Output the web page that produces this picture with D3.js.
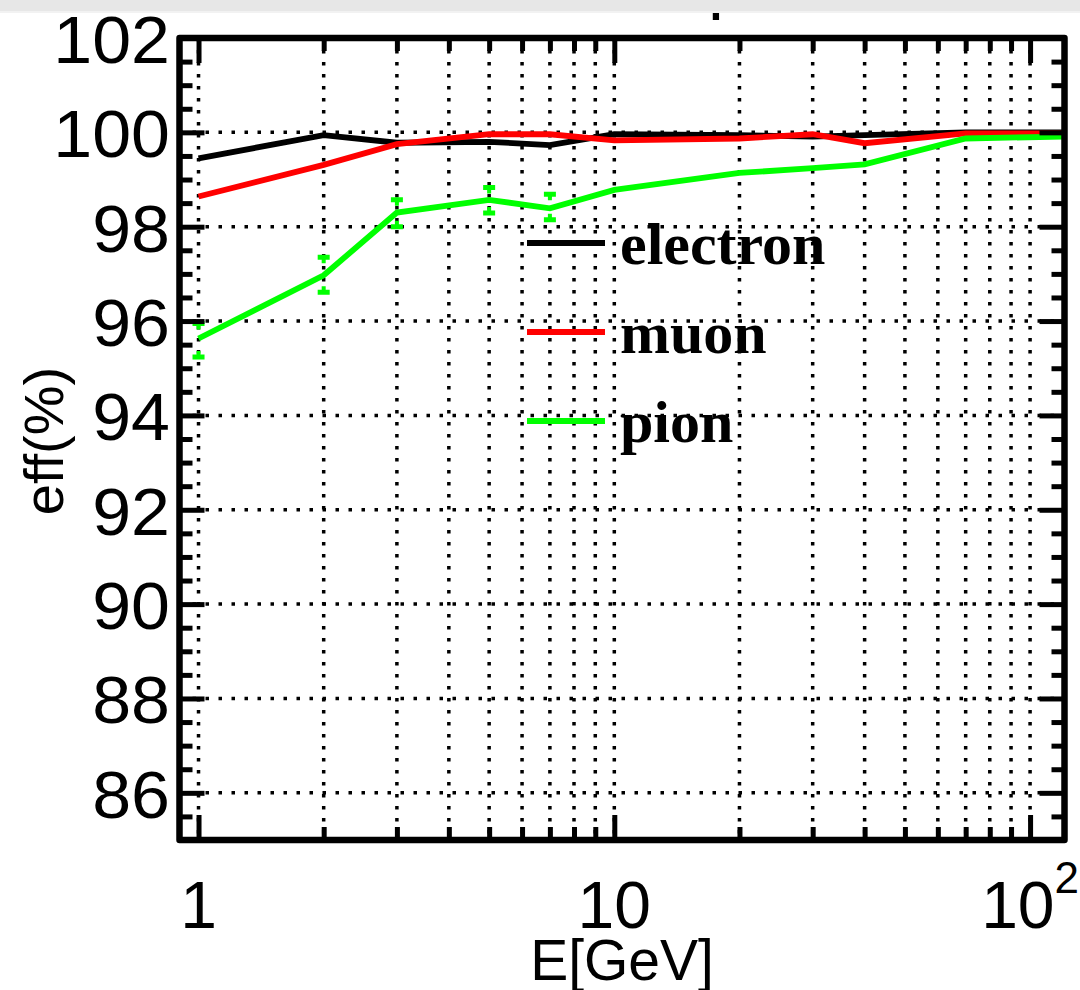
<!DOCTYPE html>
<html>
<head>
<meta charset="utf-8">
<script src="https://cdn.jsdelivr.net/npm/d3@7"></script>
<style>
  html, body { margin: 0; padding: 0; background: #ffffff; }
  svg { display: block; }
</style>
</head>
<body>
<svg id="chart" width="1080" height="990"></svg>
<script>
// Beam energies (GeV) at which the identification efficiency was measured
const energies = [1, 2, 3, 5, 7, 10, 20, 30, 40, 70, 120];

// Efficiency (%) per particle type
const electronEff = [99.45, 99.94, 99.78, 99.80, 99.73, 99.96, 99.94, 99.91, 99.94, 100.0, 100.0];
const muonEff     = [98.64, 99.31, 99.75, 99.96, 99.96, 99.83, 99.87, 99.96, 99.77, 99.98, 99.98];
const pionEff     = [95.63, 96.97, 98.30, 98.57, 98.39, 98.78, 99.14, 99.24, 99.32, 99.87, 99.91];

// Pion uncertainty band ends (%) at the low-energy points
const pionErrEnergies = [1, 2, 3, 5, 7];
const pionErrLow  = [95.24, 96.61, 98.00, 98.29, 98.15];
const pionErrHigh = [95.95, 97.35, 98.57, 98.83, 98.69];

const seriesNames  = ["electron", "muon", "pion"];
const seriesColors = ["#000000", "#ff0000", "#00ff00"];

// Axis ticks
const xMajorTicks = [1, 10, 100];
const xMinorTicks = [2, 3, 4, 5, 6, 7, 8, 9, 20, 30, 40, 50, 60, 70, 80, 90];
const xTickLabels = ["1", "10", "10|2"];
const yMajorTicks = [86, 88, 90, 92, 94, 96, 98, 100, 102];
const yMinorTicks = [85, 85.5, 86.5, 87, 87.5, 88.5, 89, 89.5, 90.5, 91, 91.5, 92.5, 93, 93.5,
                     94.5, 95, 95.5, 96.5, 97, 97.5, 98.5, 99, 99.5, 100.5, 101, 101.5];

(function drawChart() {
  const svg = d3.select("#chart");

  const pLeft = 179.5, pRight = 1064.5, pTop = 38, pBottom = 840;
  const x = d3.scaleLog().domain([0.9, 121]).range([pLeft, pRight]);
  const y = d3.scaleLinear().domain([85, 102]).range([pBottom, pTop]);

  const sansFont = "'Liberation Sans', Arial, Helvetica, sans-serif";
  const serifFont = "'Liberation Serif', 'Times New Roman', serif";
  const labelStretch = 1.06;

  // Fragment of a title line sitting above the plot
  svg.append("text")
    .attr("x", 716).attr("y", 20)
    .attr("text-anchor", "middle")
    .attr("font-family", sansFont).attr("font-size", 66)
    .attr("fill", "#000")
    .text(".");

  // Light band across the top edge of the page
  svg.append("rect").attr("x", 0).attr("y", 0).attr("width", 1080).attr("height", 11)
    .attr("fill", "#e7e7e7");
  svg.append("rect").attr("x", 0).attr("y", 11).attr("width", 1080).attr("height", 2)
    .attr("fill", "#f2f2f2");

  // Dotted grid
  const grid = svg.append("g");
  grid.selectAll("line.vgrid")
    .data(xMajorTicks.concat(xMinorTicks))
    .join("line")
    .attr("class", "vgrid")
    .attr("x1", d => x(d)).attr("x2", d => x(d))
    .attr("y1", pTop).attr("y2", pBottom)
    .attr("stroke", "#000").attr("stroke-width", 3.5)
    .attr("stroke-dasharray", "3.5,8.5");
  grid.selectAll("line.hgrid")
    .data(yMajorTicks.filter(d => d < 102))
    .join("line")
    .attr("class", "hgrid")
    .attr("x1", pLeft).attr("x2", pRight)
    .attr("y1", d => y(d)).attr("y2", d => y(d))
    .attr("stroke", "#000").attr("stroke-width", 3.5)
    .attr("stroke-dasharray", "3.5,9.5");

  // Data lines
  const line = d3.line()
    .x(d => x(d[0]))
    .y(d => y(d[1]));

  const seriesValues = [electronEff, muonEff, pionEff];
  const plot = svg.append("g");
  seriesValues.forEach((vals, i) => {
    plot.append("path")
      .datum(energies.map((e, k) => [e, vals[k]]))
      .attr("d", line)
      .attr("fill", "none")
      .attr("stroke", seriesColors[i])
      .attr("stroke-width", 5.8)
      .attr("stroke-linejoin", "miter");
  });

  // Pion error caps
  const capW = 12, capH = 5, stubW = 4, stubH = 3.5;
  function capPath(cx, cy, dir) {
    // dir = +1 : stub points down, -1 : stub points up
    const p = d3.path();
    p.rect(cx - capW / 2, cy - capH / 2, capW, capH);
    if (dir > 0) p.rect(cx - stubW / 2, cy + capH / 2, stubW, stubH);
    else p.rect(cx - stubW / 2, cy - capH / 2 - stubH, stubW, stubH);
    return p.toString();
  }
  pionErrEnergies.forEach((e, k) => {
    plot.append("path").attr("d", capPath(x(e), y(pionErrHigh[k]), 1)).attr("fill", seriesColors[2]);
    plot.append("path").attr("d", capPath(x(e), y(pionErrLow[k]), -1)).attr("fill", seriesColors[2]);
  });

  // Frame
  const axes = svg.append("g");
  axes.append("rect")
    .attr("x", pLeft).attr("y", pTop)
    .attr("width", pRight - pLeft).attr("height", pBottom - pTop)
    .attr("fill", "none").attr("stroke", "#000").attr("stroke-width", 6.5)
    .attr("stroke-linejoin", "round");

  // Inward ticks on all four sides, built with d3 axes
  const majLen = 25, minLen = 13;
  function styleAxis(g) {
    g.select(".domain").remove();
    g.selectAll(".tick line").attr("stroke", "#000").attr("stroke-width", 5);
    g.selectAll(".tick text").remove();
  }
  function addAxis(gen, transform) {
    axes.append("g").attr("transform", transform).call(gen).call(styleAxis);
  }
  addAxis(d3.axisBottom(x).tickValues(xMajorTicks).tickSize(-majLen).tickFormat(""), `translate(0,${pBottom})`);
  addAxis(d3.axisBottom(x).tickValues(xMinorTicks).tickSize(-minLen).tickFormat(""), `translate(0,${pBottom})`);
  addAxis(d3.axisTop(x).tickValues(xMajorTicks).tickSize(-majLen).tickFormat(""), `translate(0,${pTop})`);
  addAxis(d3.axisTop(x).tickValues(xMinorTicks).tickSize(-minLen).tickFormat(""), `translate(0,${pTop})`);
  addAxis(d3.axisLeft(y).tickValues(yMajorTicks).tickSize(-majLen).tickFormat(""), `translate(${pLeft},0)`);
  addAxis(d3.axisLeft(y).tickValues(yMinorTicks).tickSize(-minLen).tickFormat(""), `translate(${pLeft},0)`);
  addAxis(d3.axisRight(y).tickValues(yMajorTicks).tickSize(-majLen).tickFormat(""), `translate(${pRight},0)`);
  addAxis(d3.axisRight(y).tickValues(yMinorTicks).tickSize(-minLen).tickFormat(""), `translate(${pRight},0)`);

  // Tick labels (y labels slightly widened)
  const labels = svg.append("g").attr("font-family", sansFont).attr("fill", "#000");
  labels.selectAll("text.ylab")
    .data(yMajorTicks)
    .join("text")
    .attr("class", "ylab")
    .attr("transform", d => `translate(170,${y(d) + 25}) scale(${labelStretch},1)`)
    .attr("text-anchor", "end")
    .attr("font-size", 66)
    .text(d => d);

  xMajorTicks.forEach((v, i) => {
    const parts = xTickLabels[i].split("|");
    const t = labels.append("text")
      .attr("x", x(v))
      .attr("y", 928)
      .attr("text-anchor", "middle")
      .attr("font-size", 66);
    t.append("tspan").text(parts[0]);
    if (parts[1]) {
      t.append("tspan")
        .attr("font-size", 44)
        .attr("dy", -35)
        .text(parts[1]);
    }
  });

  // Axis titles
  labels.append("text")
    .attr("x", (pLeft + pRight) / 2)
    .attr("y", 980)
    .attr("text-anchor", "middle")
    .attr("font-size", 57)
    .text("E[GeV]");
  labels.append("text")
    .attr("transform", `translate(63,${(pTop + pBottom) / 2 + 2}) rotate(-90)`)
    .attr("text-anchor", "middle")
    .attr("font-size", 56)
    .text("eff(%)");

  // Legend
  const legend = svg.append("g");
  seriesNames.forEach((name, i) => {
    const ly = 243 + i * 89;
    legend.append("line")
      .attr("x1", 527).attr("x2", 605)
      .attr("y1", ly).attr("y2", ly)
      .attr("stroke", seriesColors[i]).attr("stroke-width", 6);
    legend.append("text")
      .attr("x", 620).attr("y", ly + 21)
      .attr("font-family", serifFont)
      .attr("font-weight", "bold")
      .attr("font-size", 60)
      .attr("fill", "#000")
      .text(name);
  });
})();
</script>
</body>
</html>
